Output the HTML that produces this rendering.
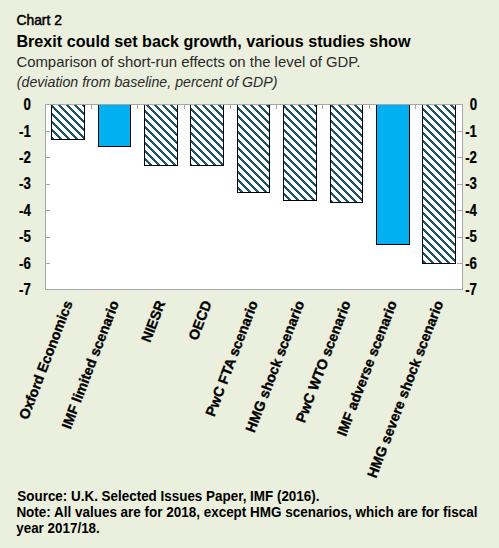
<!DOCTYPE html>
<html><head><meta charset="utf-8"><style>
html,body{margin:0;padding:0;background:#EBEFDD;}
body{width:499px;height:548px;overflow:hidden;position:relative;}
svg{position:absolute;left:0;top:0;}
text{font-family:"Liberation Sans",sans-serif;}
</style></head><body>
<svg width="499" height="548" viewBox="0 0 499 548" shape-rendering="crispEdges">
<defs>
<pattern id="hatch" patternUnits="userSpaceOnUse" width="8" height="8" x="0" y="0">
<rect width="8" height="8" fill="#fff"/>
<g fill="#1B5565"><rect x="1" y="0" width="1" height="1"/><rect x="2" y="0" width="1" height="1"/><rect x="3" y="0" width="1" height="1"/><rect x="2" y="1" width="1" height="1"/><rect x="3" y="1" width="1" height="1"/><rect x="4" y="1" width="1" height="1"/><rect x="3" y="2" width="1" height="1"/><rect x="4" y="2" width="1" height="1"/><rect x="5" y="2" width="1" height="1"/><rect x="4" y="3" width="1" height="1"/><rect x="5" y="3" width="1" height="1"/><rect x="6" y="3" width="1" height="1"/><rect x="5" y="4" width="1" height="1"/><rect x="6" y="4" width="1" height="1"/><rect x="7" y="4" width="1" height="1"/><rect x="6" y="5" width="1" height="1"/><rect x="7" y="5" width="1" height="1"/><rect x="0" y="5" width="1" height="1"/><rect x="7" y="6" width="1" height="1"/><rect x="0" y="6" width="1" height="1"/><rect x="1" y="6" width="1" height="1"/><rect x="0" y="7" width="1" height="1"/><rect x="1" y="7" width="1" height="1"/><rect x="2" y="7" width="1" height="1"/></g>
</pattern>
</defs>
<rect x="0" y="0" width="499" height="548" fill="#EBEFDD"/>
<rect x="45" y="104" width="418" height="186" fill="#fff"/>

<rect x="51" y="104" width="34" height="36" fill="url(#hatch)"/>
<path d="M51.5,104 V139.5 H84.5 V104" fill="none" stroke="#000" stroke-width="1"/>
<rect x="98" y="104" width="33" height="43" fill="#00B0F0"/>
<path d="M98.5,104 V146.5 H130.5 V104" fill="none" stroke="#000" stroke-width="1"/>
<rect x="144" y="104" width="34" height="62" fill="url(#hatch)"/>
<path d="M144.5,104 V165.5 H177.5 V104" fill="none" stroke="#000" stroke-width="1"/>
<rect x="190" y="104" width="34" height="62" fill="url(#hatch)"/>
<path d="M190.5,104 V165.5 H223.5 V104" fill="none" stroke="#000" stroke-width="1"/>
<rect x="237" y="104" width="33" height="89" fill="url(#hatch)"/>
<path d="M237.5,104 V192.5 H269.5 V104" fill="none" stroke="#000" stroke-width="1"/>
<rect x="283" y="104" width="34" height="97" fill="url(#hatch)"/>
<path d="M283.5,104 V200.5 H316.5 V104" fill="none" stroke="#000" stroke-width="1"/>
<rect x="330" y="104" width="33" height="99" fill="url(#hatch)"/>
<path d="M330.5,104 V202.5 H362.5 V104" fill="none" stroke="#000" stroke-width="1"/>
<rect x="376" y="104" width="34" height="141" fill="#00B0F0"/>
<path d="M376.5,104 V244.5 H409.5 V104" fill="none" stroke="#000" stroke-width="1"/>
<rect x="422" y="104" width="34" height="160" fill="url(#hatch)"/>
<path d="M422.5,104 V263.5 H455.5 V104" fill="none" stroke="#000" stroke-width="1"/>
<rect x="45.5" y="104.5" width="417" height="185" fill="none" stroke="#A6A6A6" stroke-width="1"/>
<line x1="46" y1="131.5" x2="50" y2="131.5" stroke="#A6A6A6" stroke-width="1"/>
<line x1="457" y1="131.5" x2="462" y2="131.5" stroke="#A6A6A6" stroke-width="1"/>
<line x1="46" y1="157.5" x2="50" y2="157.5" stroke="#A6A6A6" stroke-width="1"/>
<line x1="457" y1="157.5" x2="462" y2="157.5" stroke="#A6A6A6" stroke-width="1"/>
<line x1="46" y1="184.5" x2="50" y2="184.5" stroke="#A6A6A6" stroke-width="1"/>
<line x1="457" y1="184.5" x2="462" y2="184.5" stroke="#A6A6A6" stroke-width="1"/>
<line x1="46" y1="210.5" x2="50" y2="210.5" stroke="#A6A6A6" stroke-width="1"/>
<line x1="457" y1="210.5" x2="462" y2="210.5" stroke="#A6A6A6" stroke-width="1"/>
<line x1="46" y1="237.5" x2="50" y2="237.5" stroke="#A6A6A6" stroke-width="1"/>
<line x1="457" y1="237.5" x2="462" y2="237.5" stroke="#A6A6A6" stroke-width="1"/>
<line x1="46" y1="263.5" x2="50" y2="263.5" stroke="#A6A6A6" stroke-width="1"/>
<line x1="457" y1="263.5" x2="462" y2="263.5" stroke="#A6A6A6" stroke-width="1"/>
<line x1="91.5" y1="105" x2="91.5" y2="109" stroke="#A6A6A6" stroke-width="1"/>
<line x1="137.5" y1="105" x2="137.5" y2="109" stroke="#A6A6A6" stroke-width="1"/>
<line x1="184.5" y1="105" x2="184.5" y2="109" stroke="#A6A6A6" stroke-width="1"/>
<line x1="230.5" y1="105" x2="230.5" y2="109" stroke="#A6A6A6" stroke-width="1"/>
<line x1="276.5" y1="105" x2="276.5" y2="109" stroke="#A6A6A6" stroke-width="1"/>
<line x1="322.5" y1="105" x2="322.5" y2="109" stroke="#A6A6A6" stroke-width="1"/>
<line x1="369.5" y1="105" x2="369.5" y2="109" stroke="#A6A6A6" stroke-width="1"/>
<line x1="415.5" y1="105" x2="415.5" y2="109" stroke="#A6A6A6" stroke-width="1"/>
<g shape-rendering="auto">
<text transform="translate(30.9,110.12) scale(0.85,1)" font-size="15.6" font-weight="bold" text-anchor="end" stroke="#000" stroke-width="0.25">0</text>
<text transform="translate(477.0,110.12) scale(0.85,1)" font-size="15.6" font-weight="bold" text-anchor="end" stroke="#000" stroke-width="0.25">0</text>
<text transform="translate(30.9,136.54) scale(0.85,1)" font-size="15.6" font-weight="bold" text-anchor="end" stroke="#000" stroke-width="0.25">-1</text>
<text transform="translate(477.0,136.54) scale(0.85,1)" font-size="15.6" font-weight="bold" text-anchor="end" stroke="#000" stroke-width="0.25">-1</text>
<text transform="translate(30.9,162.97) scale(0.85,1)" font-size="15.6" font-weight="bold" text-anchor="end" stroke="#000" stroke-width="0.25">-2</text>
<text transform="translate(477.0,162.97) scale(0.85,1)" font-size="15.6" font-weight="bold" text-anchor="end" stroke="#000" stroke-width="0.25">-2</text>
<text transform="translate(30.9,189.40) scale(0.85,1)" font-size="15.6" font-weight="bold" text-anchor="end" stroke="#000" stroke-width="0.25">-3</text>
<text transform="translate(477.0,189.40) scale(0.85,1)" font-size="15.6" font-weight="bold" text-anchor="end" stroke="#000" stroke-width="0.25">-3</text>
<text transform="translate(30.9,215.83) scale(0.85,1)" font-size="15.6" font-weight="bold" text-anchor="end" stroke="#000" stroke-width="0.25">-4</text>
<text transform="translate(477.0,215.83) scale(0.85,1)" font-size="15.6" font-weight="bold" text-anchor="end" stroke="#000" stroke-width="0.25">-4</text>
<text transform="translate(30.9,242.26) scale(0.85,1)" font-size="15.6" font-weight="bold" text-anchor="end" stroke="#000" stroke-width="0.25">-5</text>
<text transform="translate(477.0,242.26) scale(0.85,1)" font-size="15.6" font-weight="bold" text-anchor="end" stroke="#000" stroke-width="0.25">-5</text>
<text transform="translate(30.9,268.69) scale(0.85,1)" font-size="15.6" font-weight="bold" text-anchor="end" stroke="#000" stroke-width="0.25">-6</text>
<text transform="translate(477.0,268.69) scale(0.85,1)" font-size="15.6" font-weight="bold" text-anchor="end" stroke="#000" stroke-width="0.25">-6</text>
<text transform="translate(30.9,295.12) scale(0.85,1)" font-size="15.6" font-weight="bold" text-anchor="end" stroke="#000" stroke-width="0.25">-7</text>
<text transform="translate(477.0,295.12) scale(0.85,1)" font-size="15.6" font-weight="bold" text-anchor="end" stroke="#000" stroke-width="0.25">-7</text>
<text transform="translate(72.9,303) rotate(-69)" font-size="14.15" font-weight="bold" text-anchor="end" stroke="#000" stroke-width="0.35">Oxford Economics</text>
<text transform="translate(119.2,303) rotate(-69)" font-size="14.15" font-weight="bold" text-anchor="end" stroke="#000" stroke-width="0.35">IMF limited scenario</text>
<text transform="translate(165.5,303) rotate(-69)" font-size="14.15" font-weight="bold" text-anchor="end" stroke="#000" stroke-width="0.35">NIESR</text>
<text transform="translate(211.9,303) rotate(-69)" font-size="14.15" font-weight="bold" text-anchor="end" stroke="#000" stroke-width="0.35">OECD</text>
<text transform="translate(258.2,303) rotate(-69)" font-size="14.15" font-weight="bold" text-anchor="end" stroke="#000" stroke-width="0.35">PwC FTA scenario</text>
<text transform="translate(304.5,303) rotate(-69)" font-size="14.15" font-weight="bold" text-anchor="end" stroke="#000" stroke-width="0.35">HMG shock scenario</text>
<text transform="translate(350.9,303) rotate(-69)" font-size="14.15" font-weight="bold" text-anchor="end" stroke="#000" stroke-width="0.35">PwC WTO scenario</text>
<text transform="translate(397.2,303) rotate(-69)" font-size="14.15" font-weight="bold" text-anchor="end" stroke="#000" stroke-width="0.35">IMF adverse scenario</text>
<text transform="translate(443.5,303) rotate(-69)" font-size="14.15" font-weight="bold" text-anchor="end" stroke="#000" stroke-width="0.35">HMG severe shock scenario</text>
<text x="16.4" y="25.3" font-size="13.9" stroke="#000" stroke-width="0.5">Chart 2</text>
<text x="16.4" y="46.5" font-size="16.17" font-weight="bold">Brexit could set back growth, various studies show</text>
<text x="16.4" y="67" font-size="14.92" fill="#2a2a2a">Comparison of short-run effects on the level of GDP.</text>
<text x="16.8" y="86.8" font-size="14.18" font-style="italic" fill="#2a2a2a">(deviation from baseline, percent of GDP)</text>
<text transform="translate(17.3,500.9) scale(0.94,1)" font-size="14.3" font-weight="bold">Source: U.K. Selected Issues Paper, IMF (2016).</text>
<text transform="translate(16.4,516.7) scale(0.9428,1)" font-size="14.3" font-weight="bold">Note: All values are for 2018, except HMG scenarios, which are for fiscal</text>
<text transform="translate(16.2,532.7) scale(0.94,1)" font-size="14.3" font-weight="bold">year 2017/18.</text>
</g></svg></body></html>
